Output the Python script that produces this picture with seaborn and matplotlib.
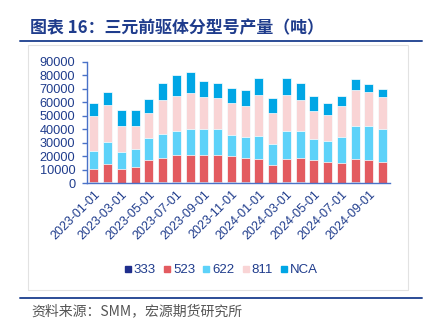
import matplotlib
matplotlib.use("Agg")
import matplotlib.pyplot as plt
from matplotlib.lines import Line2D
from matplotlib.patches import Rectangle
import numpy as np
import pandas as pd
import seaborn as sns

# Monthly ternary precursor output by type (tonnes)
months = ["2023-01-01", "2023-02-01", "2023-03-01", "2023-04-01", "2023-05-01",
          "2023-06-01", "2023-07-01", "2023-08-01", "2023-09-01", "2023-10-01",
          "2023-11-01", "2023-12-01", "2024-01-01", "2024-02-01", "2024-03-01",
          "2024-04-01", "2024-05-01", "2024-06-01", "2024-07-01", "2024-08-01",
          "2024-09-01", "2024-10-01"]
s333 = [400, 500, 300, 300, 400, 500, 500, 600, 500, 500, 400,
        400, 300, 300, 400, 400, 300, 300, 300, 400, 300, 300]
s523 = [10300, 13900, 10400, 11300, 16500, 18300, 20100, 20000, 20100, 20100, 19900,
        18400, 17500, 12800, 17400, 18200, 16600, 15600, 14800, 17400, 16600, 15600]
s622 = [13300, 16100, 12600, 13700, 16300, 17900, 17800, 19800, 19800, 19800, 15600,
        15200, 17200, 16200, 20600, 19800, 16100, 15600, 18900, 24300, 25200, 24500]
s811 = [26000, 27800, 18800, 16800, 18800, 25300, 26300, 26800, 23600, 22600, 23600,
        23500, 30400, 22700, 27000, 23600, 20800, 18800, 23500, 26800, 25300, 23300]
sNCA = [9500, 9100, 11900, 11900, 10700, 12600, 15300, 15300, 11600, 11600, 11400,
        11700, 12700, 11000, 12700, 12600, 10900, 9200, 7200, 8400, 6500, 6500]

series_names = ["333", "523", "622", "811", "NCA"]
series_vals = [s333, s523, s622, s811, sNCA]
colors = ["#1F2E8C", "#E35B60", "#5DD2F9", "#F9D4D5", "#00A6E5"]

dark_blue = "#1F3C8C"
axis_blue = "#4A72C8"

sns.set_style("white")
plt.rcParams["font.family"] = ["Liberation Sans", "DejaVu Sans"]
cjk = ["Noto Sans CJK SC", "DejaVu Sans"]

fig = plt.figure(figsize=(4.32, 3.27), dpi=100)
ax = fig.add_axes([87 / 432, 1 - 183 / 327, 302.5 / 432, 121 / 327])

df = pd.DataFrame({"month": months})
cum = np.zeros(len(months))
cums = []
for vals in series_vals:
    cum = cum + np.array(vals)
    cums.append(cum.copy())

# Draw cumulative totals from the tallest down so each segment shows its own layer
for name, top, col in reversed(list(zip(series_names, cums, colors))):
    sns.barplot(x=df["month"], y=top, color=col, saturation=1, width=0.64,
                edgecolor="white", linewidth=0.5, ax=ax, errorbar=None)

ax.set_xlim(-0.5, len(months) - 0.5)
ax.set_ylim(0, 90000)
ax.set_yticks(np.arange(0, 90001, 10000))
ax.set_yticklabels([str(v) for v in range(0, 90001, 10000)], color=dark_blue, fontsize=9.2)
ax.set_xlabel("")
ax.set_ylabel("")

# Labels every other month at the bar centres, tick marks on the category boundaries
label_pos = np.arange(0, len(months), 2)
ax.set_xticks(label_pos)
ax.set_xticklabels([months[i] for i in label_pos], rotation=45, ha="right",
                   rotation_mode="anchor", color=dark_blue, fontsize=9)
ax.tick_params(axis="x", length=0, pad=4)
ax.set_xticks(np.arange(-0.5, len(months), 2), minor=True)
ax.tick_params(axis="x", which="minor", length=3, color=axis_blue, width=1, direction="out")
ax.tick_params(axis="y", length=3.5, color=axis_blue, width=1, direction="out", pad=5, left=True)

for side in ["top", "right"]:
    ax.spines[side].set_visible(False)
for side in ["left", "bottom"]:
    ax.spines[side].set_color(axis_blue)
    ax.spines[side].set_linewidth(1.0)
ax.grid(False)

handles = [Line2D([0], [0], marker="s", linestyle="", markersize=4,
                  markerfacecolor=c, markeredgecolor=c) for c in colors]
leg = fig.legend(handles, series_names, loc="center", bbox_to_anchor=(221 / 432, 1 - 270 / 327),
                 ncol=5, frameon=False, fontsize=9.5, handlelength=0.6, handletextpad=0.15,
                 columnspacing=0.55, borderaxespad=0)
for t in leg.get_texts():
    t.set_color(dark_blue)

# Frame around the chart panel
fig.add_artist(Rectangle((28 / 432, 1 - 290 / 327), 380 / 432, 245 / 327,
                         transform=fig.transFigure, fill=False, edgecolor="#E2E2E2", lw=0.8))

# Title and source with rules
fig.text(30 / 432, 1 - 28.5 / 327, "图表 16：三元前驱体分型号产量（吨）", family=cjk,
         fontsize=12.2, fontweight="bold", color=dark_blue, va="center", ha="left")
fig.add_artist(Line2D([20 / 432, 422 / 432], [1 - 41 / 327] * 2, color="#2B4C96", lw=1.4,
                      transform=fig.transFigure))
fig.add_artist(Line2D([20 / 432, 422 / 432], [1 - 298 / 327] * 2, color="#2B4C96", lw=1.4,
                      transform=fig.transFigure))
fig.text(31 / 432, 1 - 311.5 / 327, "资料来源：SMM，宏源期货研究所", family=cjk,
         fontsize=10, style="italic", color="#555555", va="center", ha="left")

fig.savefig("out.png", dpi=100)
